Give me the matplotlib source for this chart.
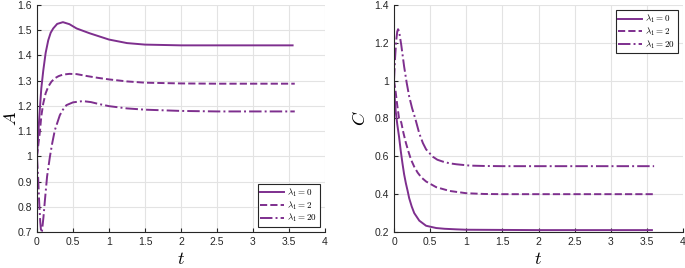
import numpy as np
import matplotlib
matplotlib.use("Agg")
import matplotlib.pyplot as plt

plt.rcParams["font.family"] = ["Liberation Sans", "DejaVu Sans"]
plt.rcParams["mathtext.fontset"] = "cm"

PURPLE = "#7e2f8e"
GRID = "#e3e3e3"
DARK = "#262626"

labels = [r"$\lambda_1 = 0$", r"$\lambda_1 = 2$", r"$\lambda_1 = 20$"]
styles = ["-", "--", "-."]

# panel A
t_a0 = [0, 0.02, 0.04, 0.06, 0.087, 0.12, 0.156, 0.19, 0.225, 0.28, 0.36, 0.45,
        0.55, 0.73, 1.0, 1.25, 1.5, 2.0, 2.5, 3.0, 3.55]
a0 = [1.0, 1.10, 1.19, 1.27, 1.34, 1.41, 1.46, 1.49, 1.507, 1.525, 1.532, 1.524,
      1.507, 1.488, 1.463, 1.449, 1.443, 1.44, 1.44, 1.44, 1.44]
t_a2 = [0, 0.02, 0.041, 0.06, 0.087, 0.12, 0.156, 0.2, 0.25, 0.3, 0.36, 0.45,
        0.55, 0.7, 0.85, 1.0, 1.25, 1.5, 2.0, 2.5, 3.0, 3.58]
a2 = [1.0, 1.05, 1.10, 1.16, 1.21, 1.25, 1.276, 1.296, 1.31, 1.318, 1.324, 1.327,
      1.326, 1.318, 1.311, 1.305, 1.297, 1.292, 1.289, 1.288, 1.288, 1.288]
t_a20 = [0, 0.015, 0.03, 0.045, 0.058, 0.07, 0.09, 0.11, 0.14, 0.179, 0.21, 0.248,
         0.317, 0.36, 0.409, 0.5, 0.638, 0.75, 0.85, 1.0, 1.25, 1.5, 2.0, 2.5, 3.0, 3.58]
a20 = [1.0, 0.92, 0.82, 0.74, 0.698, 0.705, 0.76, 0.826, 0.92, 0.998, 1.05, 1.104,
       1.163, 1.185, 1.203, 1.214, 1.219, 1.215, 1.208, 1.199, 1.19, 1.185, 1.18,
       1.178, 1.178, 1.178]

# panel C
t_c0 = [0, 0.023, 0.045, 0.07, 0.093, 0.117, 0.14, 0.164, 0.19, 0.21, 0.245, 0.28,
        0.35, 0.444, 0.584, 0.7, 0.864, 1.0, 1.5, 2.0, 2.5, 3.0, 3.57]
c0 = [0.96, 0.84, 0.77, 0.703, 0.63, 0.563, 0.505, 0.458, 0.415, 0.379, 0.335, 0.30,
      0.26, 0.233, 0.221, 0.217, 0.214, 0.212, 0.211, 0.21, 0.21, 0.21, 0.21]
t_c2 = [0, 0.02, 0.045, 0.07, 0.1, 0.13, 0.164, 0.2, 0.234, 0.28, 0.327, 0.38,
        0.444, 0.584, 0.77, 1.0, 1.25, 1.5, 2.0, 2.5, 3.0, 3.6]
c2 = [1.0, 0.95, 0.87, 0.80, 0.78, 0.725, 0.672, 0.625, 0.584, 0.545, 0.514, 0.488,
      0.467, 0.437, 0.417, 0.405, 0.401, 0.40, 0.40, 0.40, 0.40, 0.40]
t_c20 = [0, 0.015, 0.03, 0.045, 0.056, 0.07, 0.1, 0.14, 0.175, 0.21, 0.25, 0.294,
         0.35, 0.4, 0.444, 0.537, 0.6, 0.677, 0.77, 0.864, 1.05, 1.25, 1.5, 2.0,
         2.5, 3.0, 3.6]
c20 = [1.0, 1.12, 1.21, 1.26, 1.272, 1.262, 1.19, 1.075, 0.99, 0.917, 0.855, 0.80,
       0.721, 0.67, 0.637, 0.598, 0.582, 0.572, 0.563, 0.558, 0.551, 0.549, 0.548,
       0.548, 0.548, 0.548, 0.548]

xticks = [0, 0.5, 1, 1.5, 2, 2.5, 3, 3.5, 4]
xticklabels = ["0", "0.5", "1", "1.5", "2", "2.5", "3", "3.5", "4"]
a_ticks = [0.7, 0.8, 0.9, 1.0, 1.1, 1.2, 1.3, 1.4, 1.5, 1.6]
a_ticklabels = ["0.7", "0.8", "0.9", "1", "1.1", "1.2", "1.3", "1.4", "1.5", "1.6"]
c_ticks = [0.2, 0.4, 0.6, 0.8, 1.0, 1.2, 1.4]
c_ticklabels = ["0.2", "0.4", "0.6", "0.8", "1", "1.2", "1.4"]

fig = plt.figure(figsize=(6.85, 2.68), dpi=100)
ax1 = fig.add_axes([37 / 685, 1 - 232 / 268, 288 / 685, 227 / 268])
ax2 = fig.add_axes([394 / 685, 1 - 232 / 268, 289 / 685, 227 / 268])


def style(ax, yticks, yticklabels, ylim, ylabel, ylab_x):
    ax.set_xlim(0, 4)
    ax.set_ylim(*ylim)
    ax.set_xticks(xticks)
    ax.set_xticklabels(xticklabels)
    ax.set_yticks(yticks)
    ax.set_yticklabels(yticklabels)
    ax.grid(True, color=GRID, lw=0.8)
    ax.set_axisbelow(True)
    for s in ["top", "right"]:
        ax.spines[s].set_visible(False)
    for s in ["left", "bottom"]:
        ax.spines[s].set_color(DARK)
        ax.spines[s].set_linewidth(0.8)
    ax.tick_params(direction="in", length=3, width=0.8, colors=DARK,
                   labelsize=7.5, pad=3.5)
    ax.set_xlabel(r"$t$", fontsize=13)
    ax.set_ylabel(ylabel, fontsize=13)
    ax.xaxis.set_label_coords(0.5, -0.085)
    ax.yaxis.set_label_coords(ylab_x, 0.5)


def legend(ax, loc):
    leg = ax.legend(loc=loc, fontsize=6.5, handlelength=2.6, fancybox=False,
                    edgecolor=DARK, framealpha=1, borderpad=0.25,
                    labelspacing=0.02, handletextpad=0.4, borderaxespad=0.6)
    leg.get_frame().set_linewidth(0.8)


series_a = [(t_a0, a0), (t_a2, a2), (t_a20, a20)]
for (tt, yy), ls, lab in zip(series_a, styles, labels):
    ax1.plot(tt, yy, ls, color=PURPLE, lw=1.4, label=lab)
style(ax1, a_ticks, a_ticklabels, (0.7, 1.6), r"$A$", -0.06)
legend(ax1, "lower right")

series_c = [(t_c0, c0), (t_c2, c2), (t_c20, c20)]
for (tt, yy), ls, lab in zip(series_c, styles, labels):
    ax2.plot(tt, yy, ls, color=PURPLE, lw=1.4, label=lab)
style(ax2, c_ticks, c_ticklabels, (0.2, 1.4), r"$C$", -0.085)
legend(ax2, "upper right")

fig.savefig("out.png", dpi=100)
